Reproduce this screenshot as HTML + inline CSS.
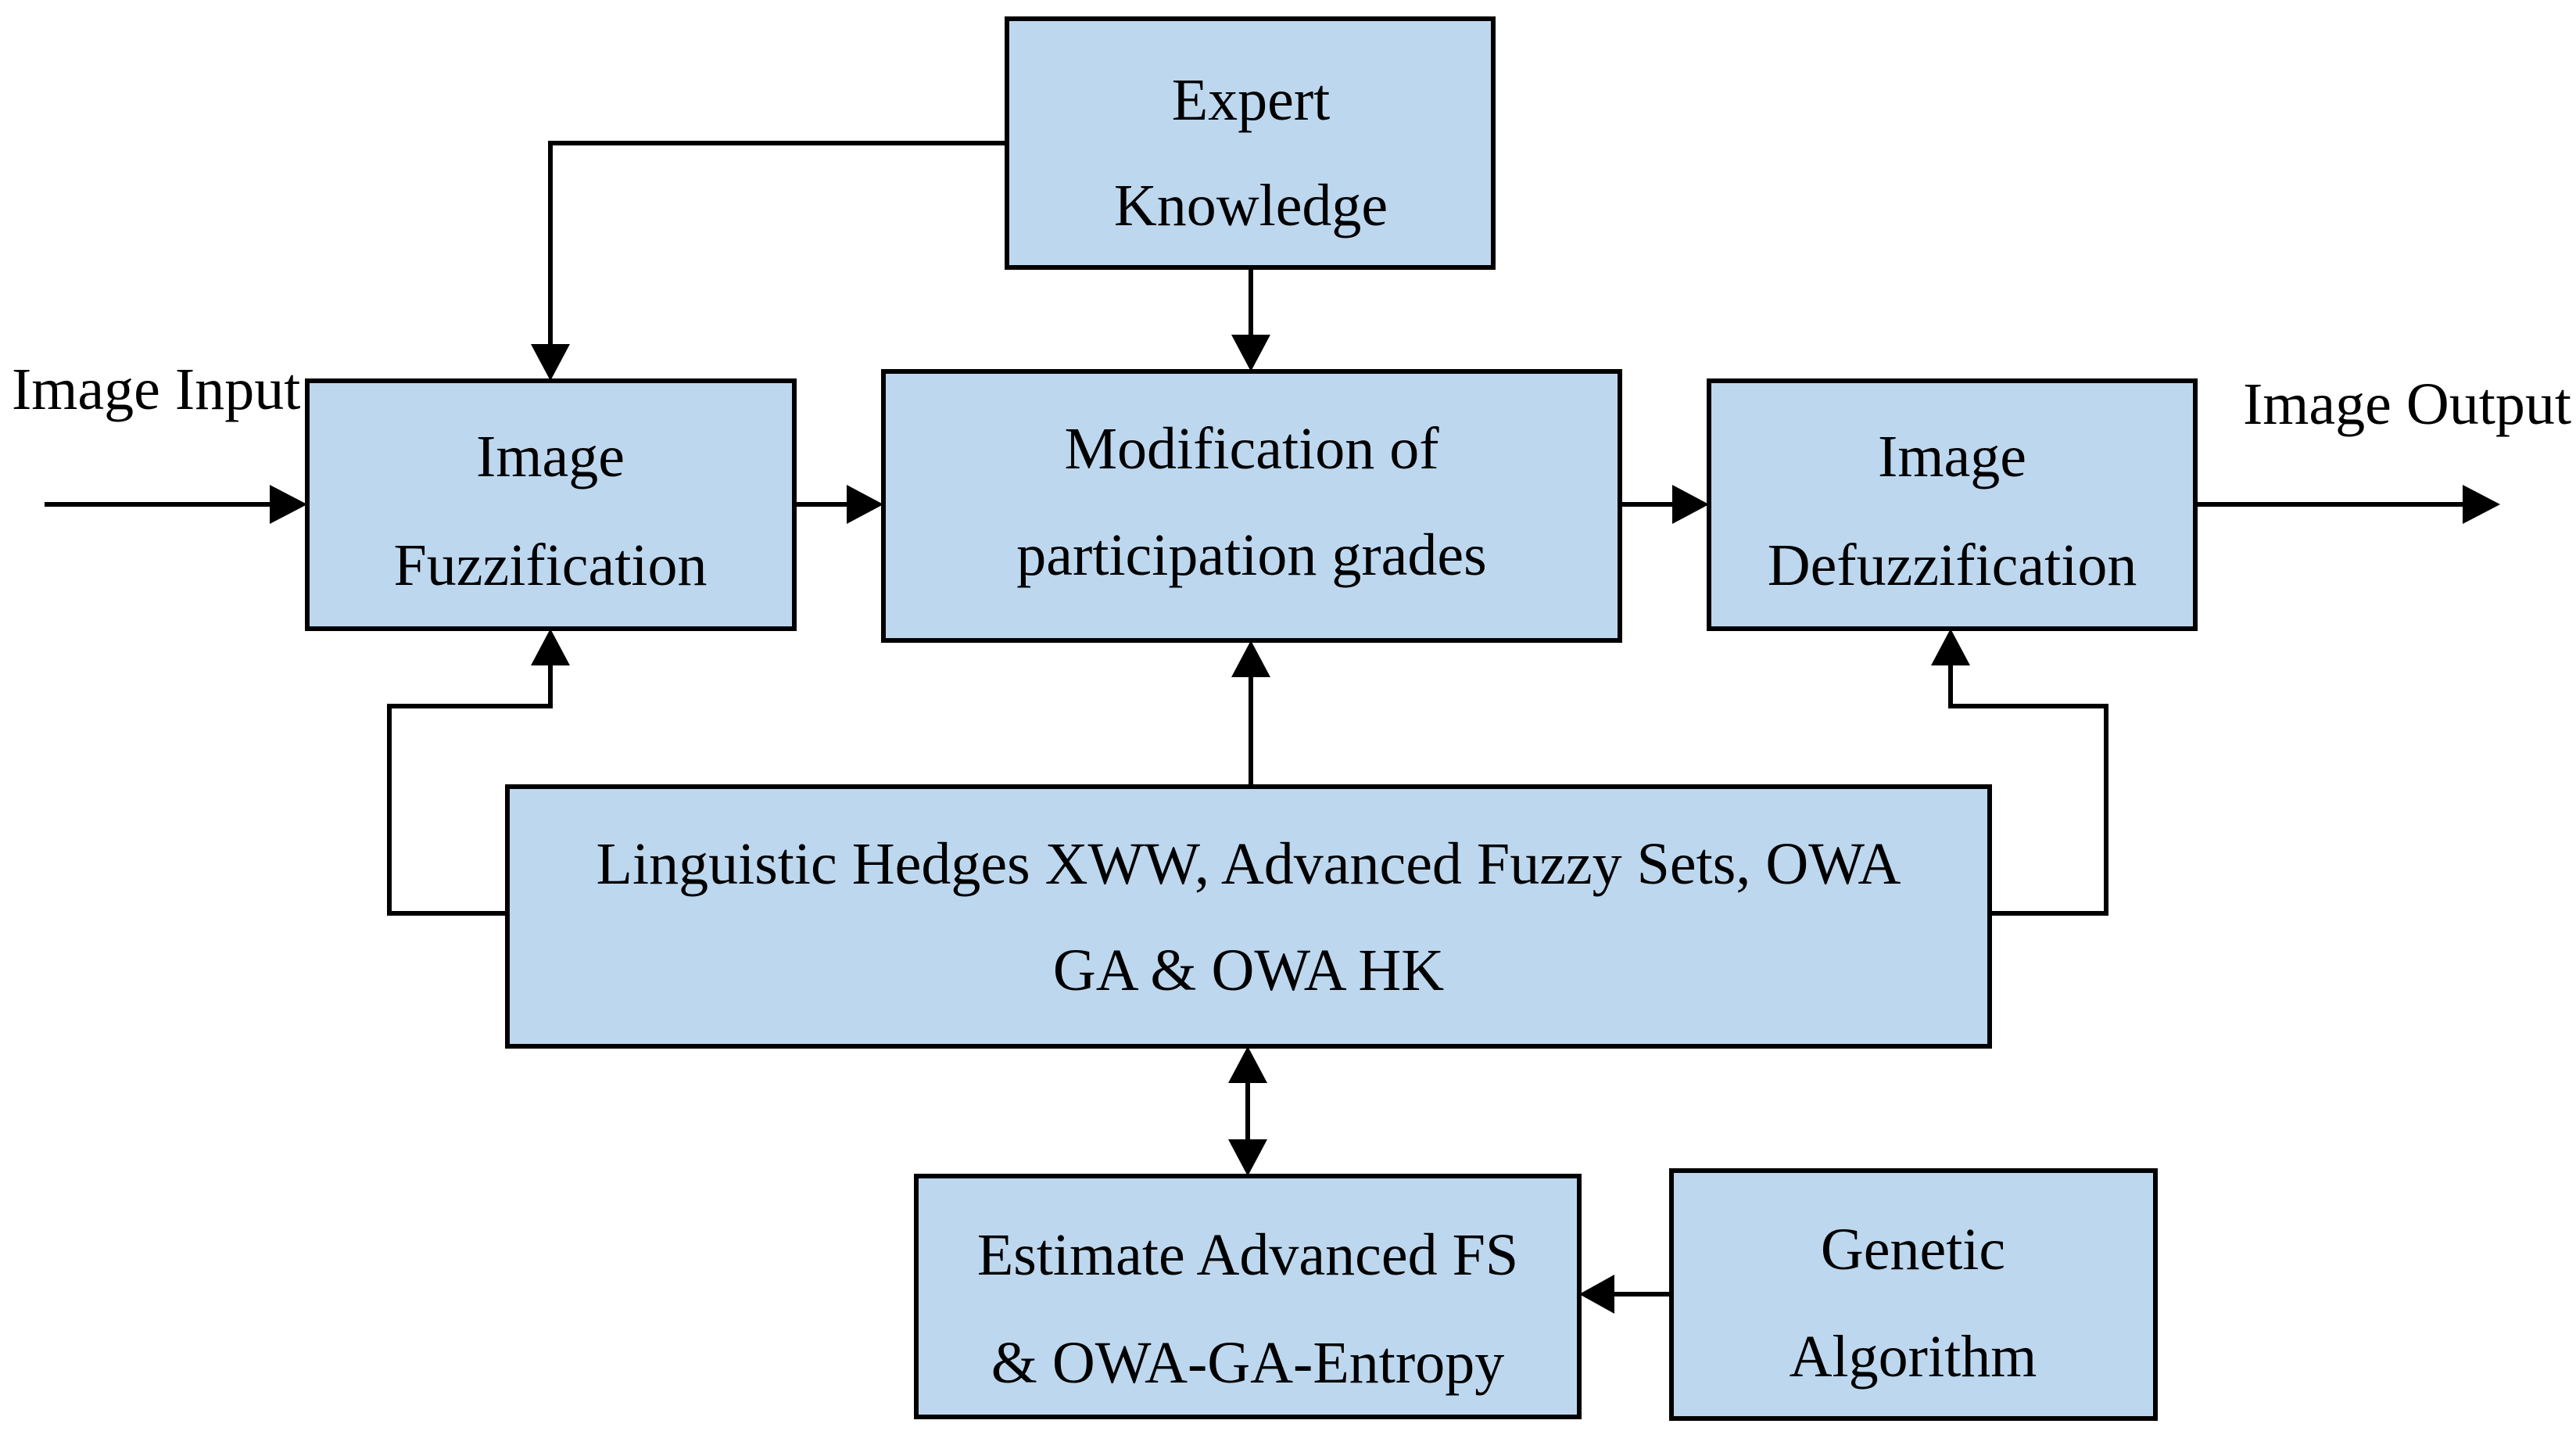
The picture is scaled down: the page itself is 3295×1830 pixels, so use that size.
<!DOCTYPE html>
<html><head><meta charset="utf-8"><style>
html,body{margin:0;padding:0;background:#fff;}
svg{display:block}
text{font-family:"Liberation Serif",serif;font-size:76px;fill:#000;text-anchor:middle}
</style></head><body>
<svg width="3295" height="1830" viewBox="0 0 3295 1830" xmlns="http://www.w3.org/2000/svg">
<g fill="#bdd7ee" stroke="#000" stroke-width="6">
<rect x="1288" y="24" width="622" height="318"/>
<rect x="393" y="487" width="623" height="317"/>
<rect x="1130" y="475" width="942" height="344"/>
<rect x="2186" y="487" width="622" height="317"/>
<rect x="649" y="1006" width="1896" height="332"/>
<rect x="1172" y="1504" width="848" height="308"/>
<rect x="2138" y="1497" width="619" height="317"/>
</g>
<g fill="none" stroke="#000" stroke-width="6">
<polyline points="1288,183 704,183 704,445"/>
<line x1="1600" y1="342" x2="1600" y2="433"/>
<line x1="57" y1="645" x2="350" y2="645"/>
<line x1="1016" y1="645" x2="1088" y2="645"/>
<line x1="2072" y1="645" x2="2144" y2="645"/>
<line x1="2808" y1="645" x2="3155" y2="645"/>
<polyline points="649,1168 498,1168 498,903 704,903 704,846"/>
<line x1="1600" y1="1006" x2="1600" y2="860"/>
<polyline points="2545,1168 2694,1168 2694,903 2495,903 2495,846"/>
<line x1="1596" y1="1380" x2="1596" y2="1462"/>
<line x1="2138" y1="1655" x2="2060" y2="1655"/>
</g>
<g fill="#000">
<polygon points="679,440 729,440 704,487"/>
<polygon points="1575,428 1625,428 1600,475"/>
<polygon points="345,620 345,670 393,645"/>
<polygon points="1083,620 1083,670 1130,645"/>
<polygon points="2139,620 2139,670 2186,645"/>
<polygon points="3150,620 3150,670 3198,645"/>
<polygon points="679,851 729,851 704,804"/>
<polygon points="1575,866 1625,866 1600,819"/>
<polygon points="2470,851 2520,851 2495,804"/>
<polygon points="1571,1385 1621,1385 1596,1338"/>
<polygon points="1571,1457 1621,1457 1596,1504"/>
<polygon points="2065,1630 2065,1680 2020,1655"/>
</g>
<text x="1600" y="153">Expert</text>
<text x="1600" y="288">Knowledge</text>
<text x="704" y="609">Image</text>
<text x="704" y="748">Fuzzification</text>
<text x="1601" y="599">Modification of</text>
<text x="1601" y="735">participation grades</text>
<text x="2497" y="609">Image</text>
<text x="2497" y="748">Defuzzification</text>
<text x="1597" y="1130">Linguistic Hedges XWW, Advanced Fuzzy Sets, OWA</text>
<text x="1597" y="1266">GA &amp; OWA HK</text>
<text x="1596" y="1630">Estimate Advanced FS</text>
<text x="1596" y="1768">&amp; OWA-GA-Entropy</text>
<text x="2447" y="1623">Genetic</text>
<text x="2447" y="1760">Algorithm</text>
<text x="15" y="523" style="text-anchor:start">Image Input</text>
<text x="2869" y="542" style="text-anchor:start">Image Output</text>
</svg>
</body></html>
